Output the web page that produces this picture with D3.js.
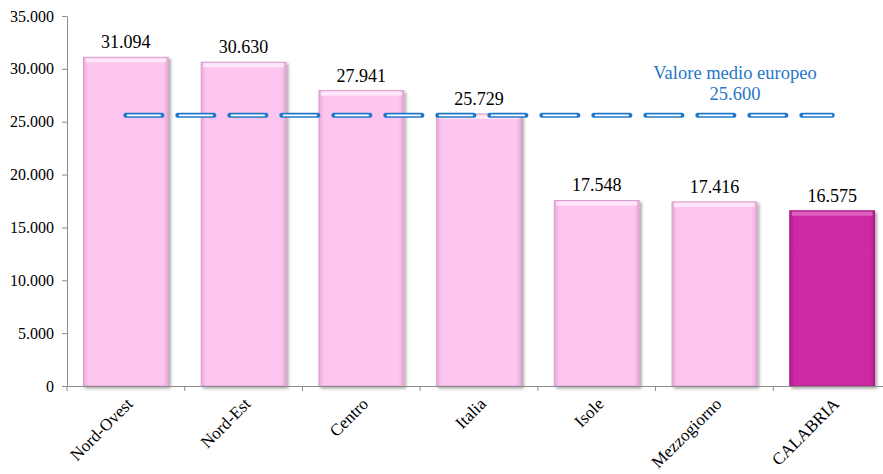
<!DOCTYPE html>
<html><head><meta charset="utf-8">
<script src="https://cdn.jsdelivr.net/npm/d3@7"></script>
</head><body style="margin:0;background:#fff"><svg id="c" width="883" height="474" style="display:block"></svg>
<script>
const categories = ["Nord-Ovest","Nord-Est","Centro","Italia","Isole","Mezzogiorno","CALABRIA"];
const values = [31094, 30630, 27941, 25729, 17548, 17416, 16575];
const labels = ["31.094","30.630","27.941","25.729","17.548","17.416","16.575"];
const highlight = ["CALABRIA"];
const euroValue = 25600;
const euroLabel = ["Valore medio europeo","25.600"];
const yTicks = [0,5000,10000,15000,20000,25000,30000,35000];
const yTickLabels = ["0","5.000","10.000","15.000","20.000","25.000","30.000","35.000"];

const FONT = "Liberation Serif";
const svg = d3.select("#c");
const x = d3.scaleBand().domain(categories).range([67, 891]).paddingInner(0.28).paddingOuter(0.14);
const y = d3.scaleLinear().domain([0, 35000]).range([386, 16]);

const defs = svg.append("defs");
const f = defs.append("filter").attr("id","sh").attr("x","-10%").attr("y","-10%").attr("width","130%").attr("height","130%");
f.append("feDropShadow").attr("dx",2).attr("dy",2).attr("stdDeviation",1.5).attr("flood-color","#000").attr("flood-opacity",0.35);
function grad(id, edge, mid){
  const g = defs.append("linearGradient").attr("id",id).attr("x1","0").attr("x2","1");
  g.append("stop").attr("offset","0").attr("stop-color",edge);
  g.append("stop").attr("offset","0.06").attr("stop-color",mid);
  g.append("stop").attr("offset","0.94").attr("stop-color",mid);
  g.append("stop").attr("offset","1").attr("stop-color",edge);
}
grad("gp","#e8a8d8","#fdc6f0");
grad("gc","#b01e8c","#cf2aa5");

// y axis
const yAxis = d3.axisLeft(y).tickValues(yTicks).tickFormat((d,i)=>yTickLabels[i]).tickSize(5).tickSizeOuter(0);
const gy = svg.append("g").attr("transform","translate(67,0)").call(yAxis).attr("font-family",FONT).attr("font-size",16);
gy.select(".domain").attr("stroke","#8c8c8c");
gy.selectAll(".tick line").attr("stroke","#8c8c8c");
gy.selectAll(".tick text").attr("fill","#000").attr("x",-13);

// bars
const bars = svg.append("g");
categories.forEach((c,i)=>{
  const hi = highlight.includes(c);
  const bx = x(c), bw = x.bandwidth(), by = y(values[i]), bh = y(0)-y(values[i]);
  bars.append("rect").attr("x",bx).attr("y",by).attr("width",bw).attr("height",bh)
    .attr("fill", hi ? "url(#gc)" : "url(#gp)")
    .attr("stroke", hi ? "#a31a80" : "#d9a0cc").attr("stroke-width",1)
    .attr("filter","url(#sh)");
  bars.append("rect").attr("x",bx+2).attr("y",by+1).attr("width",bw-4).attr("height",4)
    .attr("fill", hi ? "#e070c4" : "#fff0fb").attr("opacity",0.8);
  svg.append("text").attr("x",bx+bw/2).attr("y",by-9).attr("text-anchor","middle")
    .attr("font-size",18).attr("fill","#000").attr("font-family",FONT).text(labels[i]);
});

// x axis
const xAxis = d3.axisBottom(x).tickSize(0).tickFormat("");
const gx = svg.append("g").attr("transform","translate(0,386)").call(xAxis);
gx.select(".domain").attr("stroke","#8c8c8c");
const step = x.step();
categories.forEach((c,i)=>{
  const left = 67 + i*step;
  gx.append("line").attr("x1",left).attr("x2",left).attr("y1",0).attr("y2",5).attr("stroke","#8c8c8c");
});
categories.forEach((c,i)=>{
  const cx = x(c)+x.bandwidth()/2;
  svg.append("text").attr("transform",`translate(${cx+8},${405}) rotate(-45)`)
    .attr("text-anchor","end").attr("font-size",17).attr("fill","#000").attr("font-family",FONT).text(c);
});

// european average dashed line
const x0 = x(categories[0])+x.bandwidth()/2, x1 = x(categories[categories.length-1])+x.bandwidth()/2;
const ly = y(euroValue);
svg.append("line").attr("x1",x0).attr("x2",x1).attr("y1",ly).attr("y2",ly)
  .attr("stroke","#1f78c8").attr("stroke-width",5).attr("stroke-dasharray","36,16").attr("stroke-linecap","round");
svg.append("line").attr("x1",x0+1).attr("x2",x1).attr("y1",ly).attr("y2",ly)
  .attr("stroke","#fff").attr("stroke-width",1.6).attr("stroke-dasharray","34,18");
svg.append("text").attr("x",735).attr("y",79).attr("text-anchor","middle").attr("font-size",18.5).attr("fill","#1f78c8").attr("font-family",FONT).text(euroLabel[0]);
svg.append("text").attr("x",735).attr("y",100).attr("text-anchor","middle").attr("font-size",18.5).attr("fill","#1f78c8").attr("font-family",FONT).text(euroLabel[1]);
</script></body></html>
